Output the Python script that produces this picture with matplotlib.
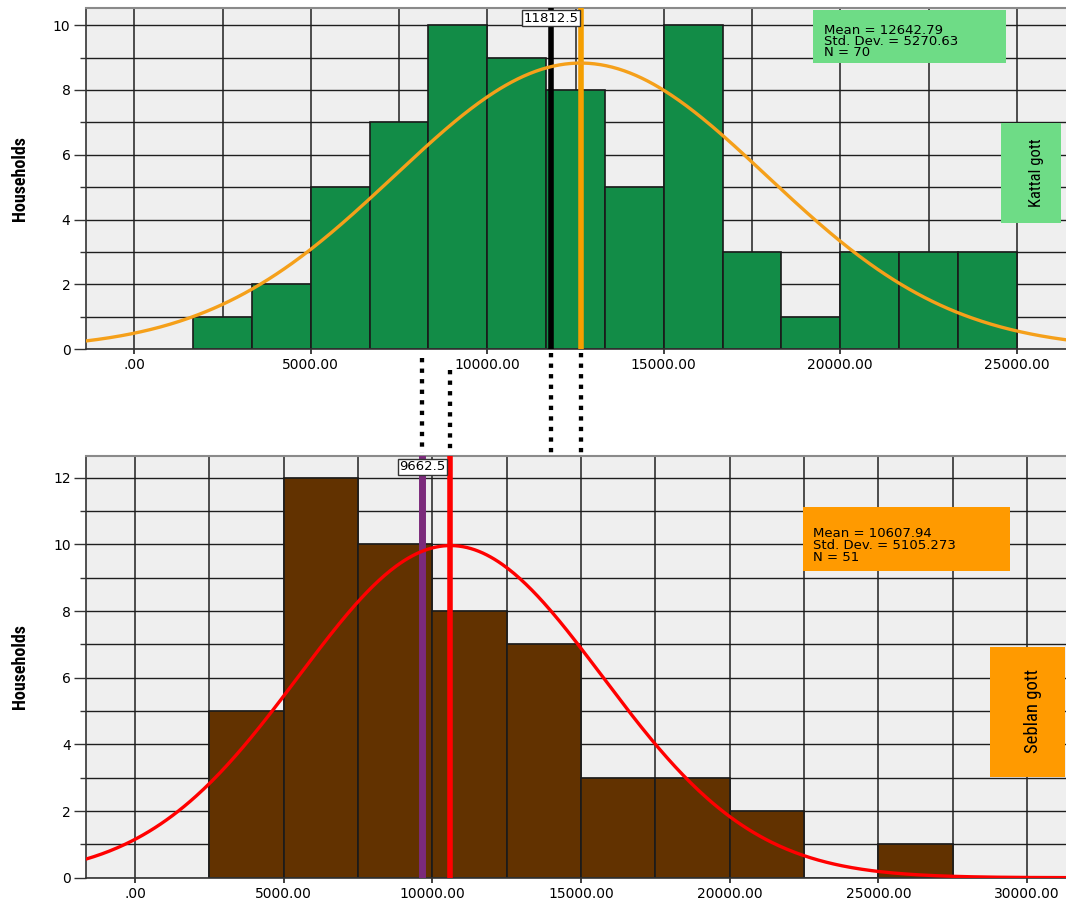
import numpy as np
import matplotlib
matplotlib.use("Agg")
import matplotlib.pyplot as plt
from matplotlib.patches import Rectangle
from matplotlib.lines import Line2D
from matplotlib.transforms import blended_transform_factory

# Kattal gott (top panel)
kattal_counts = [1, 2, 5, 7, 10, 9, 8, 5, 10, 3, 1, 3, 3, 3]
kattal_bin_start = 25000 / 15
kattal_bin_width = 25000 / 15
kattal_mean = 12642.79
kattal_sd = 5270.63
kattal_n = 70
kattal_median = 11812.5
kattal_stats = "Mean = 12642.79\nStd. Dev. = 5270.63\nN = 70"
kattal_xticks = [0, 5000, 10000, 15000, 20000, 25000]
kattal_yticks = [0, 2, 4, 6, 8, 10]

# Seblan gott (bottom panel)
seblan_counts = [5, 12, 10, 8, 7, 3, 3, 2, 0, 1]
seblan_bin_start = 2500
seblan_bin_width = 2500
seblan_mean = 10607.94
seblan_sd = 5105.273
seblan_n = 51
seblan_median = 9662.5
seblan_stats = "Mean = 10607.94\nStd. Dev. = 5105.273\nN = 51"
seblan_xticks = [0, 5000, 10000, 15000, 20000, 25000, 30000]
seblan_yticks = [0, 2, 4, 6, 8, 10, 12]

W, H = 1066, 900
NARROW = ['Liberation Sans Narrow', 'Roboto Condensed', 'DejaVu Sans']

plt.rcParams['font.family'] = ['DejaVu Sans']

fig = plt.figure(figsize=(W / 100, H / 100), dpi=100)


def fx(px):
    return px / W


def fy(py):
    return 1 - py / H


def spss_fmt(v, pos=None):
    s = f"{v:.2f}"
    if s.startswith("0."):
        s = s[1:]
    return s


def draw_panel(ax, counts, start, width, mean, sd, n, median, xlim, ylim,
               xticks, yticks, bar_color, curve_color, median_color, mean_color,
               median_lw):
    ax.set_facecolor('#efefef')
    ax.set_xlim(*xlim)
    ax.set_ylim(*ylim)

    lefts = start + width * np.arange(len(counts))
    ax.bar(lefts, counts, width=width, align='edge', color=bar_color,
           edgecolor='#1a1a1a', linewidth=1.2, zorder=2)

    # fitted normal curve, scaled to counts
    xs = np.linspace(xlim[0], xlim[1], 500)
    ys = n * width * np.exp(-0.5 * ((xs - mean) / sd) ** 2) / (sd * np.sqrt(2 * np.pi))

    ax.axvline(median, color=median_color, lw=median_lw, zorder=3)
    ax.axvline(mean, color=mean_color, lw=4, zorder=3)
    ax.plot(xs, ys, color=curve_color, lw=2.4, zorder=4)

    trans = blended_transform_factory(ax.transData, ax.transAxes)
    ax.text(median, 0.99, f"{median}", transform=trans, ha='center', va='top',
            fontsize=9.5, zorder=6,
            bbox=dict(boxstyle='square,pad=0.1', fc='white', ec='#333333', lw=1))

    ax.set_xticks(xticks)
    ax.set_xticks(np.arange(0, xlim[1], 2500), minor=True)
    ax.xaxis.set_major_formatter(plt.FuncFormatter(spss_fmt))
    ax.set_yticks(yticks)
    ax.set_yticks(np.arange(0, ylim[1], 1), minor=True)

    ax.set_axisbelow(True)
    ax.grid(axis='y', which='both', color='#1e1e1e', lw=1.0)
    ax.grid(axis='x', which='both', color='#4c4c4c', lw=1.4)

    ax.tick_params(axis='y', which='major', length=9, width=1, color='#333333',
                   pad=2, labelsize=10)
    ax.tick_params(axis='y', which='minor', length=4.5, width=1, color='#333333')
    ax.tick_params(axis='x', which='major', length=3.5, width=1.3, color='#333333',
                   pad=3, labelsize=10)
    ax.tick_params(axis='x', which='minor', length=0)

    for side in ['left', 'bottom']:
        ax.spines[side].set_color('#333333')
        ax.spines[side].set_linewidth(1.2)
    ax.spines['top'].set_color('#8a8a8a')
    ax.spines['top'].set_linewidth(1.5)
    ax.spines['right'].set_visible(False)


ax_top = fig.add_axes([fx(85.7), fy(349.3), 1 - fx(85.7), fy(8.3) - fy(349.3)])
draw_panel(ax_top, kattal_counts, kattal_bin_start, kattal_bin_width, kattal_mean,
           kattal_sd, kattal_n, kattal_median, (-1377, 26394), (0, 10.52),
           kattal_xticks, kattal_yticks, '#128c47', '#f5a01a', '#000000', '#f59f00', 4)

ax_bot = fig.add_axes([fx(86), fy(877.7), 1 - fx(86), fy(456) - fy(877.7)])
draw_panel(ax_bot, seblan_counts, seblan_bin_start, seblan_bin_width, seblan_mean,
           seblan_sd, seblan_n, seblan_median, (-1648, 31311), (0, 12.65),
           seblan_xticks, seblan_yticks, '#623200', '#ff0000', '#7b2a7b', '#ff0000', 5)

# y labels
for yc in (179, 667):
    fig.text(fx(20), fy(yc), "Households", rotation=90, ha='center', va='center',
             fontsize=13, fontweight='bold', fontstretch='condensed', family=NARROW)

# statistics boxes
fig.add_artist(Rectangle((fx(813), fy(62.6)), fx(1006) - fx(813), fy(9.6) - fy(62.6),
                         transform=fig.transFigure, fc='#6edc86', ec='none', zorder=5))
fig.text(fx(824), fy(41.5), kattal_stats, ha='left', va='center', fontsize=9.5,
         linespacing=0.78, zorder=6)
fig.add_artist(Rectangle((fx(1001), fy(223)), fx(1060.6) - fx(1001), fy(123) - fy(223),
                         transform=fig.transFigure, fc='#6edc86', ec='none', zorder=5))
fig.text(fx(1036), fy(172.6), "Kattal gott", rotation=90, ha='center', va='center',
         fontsize=12, fontstretch='condensed', family=NARROW, zorder=6)

fig.add_artist(Rectangle((fx(802.5), fy(571)), fx(1009.7) - fx(802.5), fy(506.7) - fy(571),
                         transform=fig.transFigure, fc='#ff9a00', ec='none', zorder=5))
fig.text(fx(813), fy(545.5), seblan_stats, ha='left', va='center', fontsize=9.5,
         linespacing=0.88, zorder=6)
fig.add_artist(Rectangle((fx(990.5), fy(777.4)), fx(1065) - fx(990.5), fy(646.5) - fy(777.4),
                         transform=fig.transFigure, fc='#ff9a00', ec='none', zorder=5))
fig.text(fx(1033), fy(711), "Seblan gott", rotation=90, ha='center', va='center',
         fontsize=13.5, fontstretch='condensed', family=NARROW, zorder=6)

# dotted connectors between the panels
connectors = [
    (ax_bot, seblan_median, 358),
    (ax_bot, seblan_mean, 370),
    (ax_top, kattal_median, 353),
    (ax_top, kattal_mean, 353),
]
for ax, xv, ytop in connectors:
    tr = blended_transform_factory(ax.transData, fig.transFigure)
    fig.add_artist(Line2D([xv, xv], [fy(ytop), fy(453)], transform=tr, color='black',
                          lw=3.1, linestyle=(0, (1, 1.45)), dash_capstyle='butt'))

fig.savefig("out.png", dpi=100)
